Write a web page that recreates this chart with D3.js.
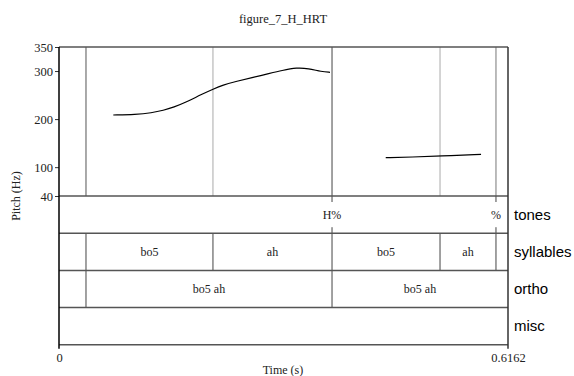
<!DOCTYPE html>
<html>
<head>
<meta charset="utf-8">
<script src="https://cdn.jsdelivr.net/npm/d3@7"></script>
<style>
  html, body { margin: 0; padding: 0; background: #fff; }
  svg { display: block; }
</style>
</head>
<body>
<script>
// Pitch track and annotation tiers for figure_7_H_HRT
const title = "figure_7_H_HRT";
const duration = 0.6162;
const pitchTicks = [40, 100, 200, 300, 350];

// Pitch contour segments: [time (s), F0 (Hz)]
const contour1 = [
  [0.0745, 208.5], [0.1050, 209.5], [0.1272, 213.0], [0.1431, 218.0],
  [0.1580, 225.0], [0.1729, 234.0], [0.1958, 251.6], [0.2118, 262.6],
  [0.2255, 271.0], [0.2400, 277.5], [0.2804, 291.7], [0.3078, 302.0],
  [0.3262, 307.0], [0.3421, 305.5], [0.3605, 298.6], [0.3719, 297.4]
];
const contour2 = [
  [0.4484, 119.7], [0.4850, 121.0], [0.5229, 123.2], [0.5792, 126.7]
];

// Annotation tiers
const tierNames = ["tones", "syllables", "ortho", "misc"];
const tonePoints = [0.3747, 0.5997];
const toneLabels = ["H%", "%"];
const syllableBounds = [0, 0.03705, 0.2113, 0.3747, 0.5229, 0.5997, 0.6162];
const syllableLabels = ["", "bo5", "ah", "bo5", "ah", ""];
const orthoBounds = [0, 0.03705, 0.3747, 0.6162];
const orthoLabels = ["", "bo5 ah", "bo5 ah"];
// Boundary lines through the pitch panel
const pitchMarks = [0.03705, 0.2113, 0.3747, 0.5229, 0.5997];
const pitchMarkColors = ["#555", "#aaa", "#444", "#aaa", "#777"];

const W = 574, H = 376;
const plotLeft = 59, plotRight = 508, plotTop = 47, pitchBottom = 196, tierH = 37.2;

const svg = d3.select("body").append("svg").attr("width", W).attr("height", H);

const x = d3.scaleLinear().domain([0, duration]).range([plotLeft, plotRight]);
const y = d3.scaleLinear().domain([40, 350]).range([pitchBottom, plotTop]);
const tierTop = i => pitchBottom + i * tierH;
const plotBottom = tierTop(tierNames.length);

const serif = "'Liberation Serif', 'Times New Roman', serif";
const sans = "'Liberation Sans', Arial, sans-serif";

// Title
svg.append("text").attr("x", 283).attr("y", 23).attr("text-anchor", "middle")
  .attr("font-family", serif).attr("font-size", 12.5).attr("fill", "#222").text(title);

// Pitch panel boundary lines
svg.selectAll("line.pm").data(pitchMarks).enter().append("line")
  .attr("x1", d => x(d)).attr("x2", d => x(d))
  .attr("y1", plotTop).attr("y2", pitchBottom)
  .attr("stroke", (d, i) => pitchMarkColors[i]).attr("stroke-width", 1);

// Pitch contours
const line = d3.line().x(d => x(d[0])).y(d => y(d[1])).curve(d3.curveBasis);
[contour1, contour2].forEach(c => {
  svg.append("path").attr("d", line(c)).attr("fill", "none")
    .attr("stroke", "#000").attr("stroke-width", 1.2);
});

// Tier interval boundaries and labels
function intervalTier(idx, bounds, labels) {
  const t0 = tierTop(idx), t1 = tierTop(idx + 1);
  bounds.slice(1, -1).forEach(b => {
    svg.append("line").attr("x1", x(b)).attr("x2", x(b))
      .attr("y1", t0).attr("y2", t1).attr("stroke", "#444").attr("stroke-width", 1);
  });
  labels.forEach((lab, i) => {
    if (!lab) return;
    svg.append("text").attr("x", (x(bounds[i]) + x(bounds[i + 1])) / 2)
      .attr("y", (t0 + t1) / 2 + 4).attr("text-anchor", "middle")
      .attr("font-family", serif).attr("font-size", 12).attr("fill", "#222").text(lab);
  });
}
intervalTier(1, syllableBounds, syllableLabels);
intervalTier(2, orthoBounds, orthoLabels);

// Point tier (tones)
tonePoints.forEach((p, i) => {
  const t0 = tierTop(0), t1 = tierTop(1);
  svg.append("line").attr("x1", x(p)).attr("x2", x(p)).attr("y1", t0).attr("y2", t0 + 6)
    .attr("stroke", "#444");
  svg.append("line").attr("x1", x(p)).attr("x2", x(p)).attr("y1", t1 - 6).attr("y2", t1)
    .attr("stroke", "#444");
  svg.append("text").attr("x", x(p)).attr("y", (t0 + t1) / 2 + 4).attr("text-anchor", "middle")
    .attr("font-family", serif).attr("font-size", 12).attr("fill", "#222").text(toneLabels[i]);
});

// Horizontal separators
[plotTop, pitchBottom, tierTop(1), tierTop(2), tierTop(3), plotBottom].forEach(yy => {
  svg.append("line").attr("x1", plotLeft).attr("x2", plotRight).attr("y1", yy).attr("y2", yy)
    .attr("stroke", "#555").attr("stroke-width", 1.5);
});
// Right frame edge
svg.append("line").attr("x1", plotRight).attr("x2", plotRight).attr("y1", plotTop).attr("y2", plotBottom + 4)
  .attr("stroke", "#333").attr("stroke-width", 1.5);

// Tier names
tierNames.forEach((n, i) => {
  svg.append("text").attr("x", 514).attr("y", tierTop(i) + tierH / 2 + 5)
    .attr("font-family", sans).attr("font-size", 15).attr("fill", "#000").text(n);
});

// Pitch axis
const yAxis = svg.append("g").attr("transform", `translate(${plotLeft},0)`)
  .call(d3.axisLeft(y).tickValues(pitchTicks).tickSize(4).tickPadding(2));
yAxis.select(".domain").remove();
yAxis.selectAll("text").attr("font-family", serif).attr("font-size", 12.5).attr("fill", "#222");
yAxis.selectAll("line").attr("stroke", "#333");
svg.append("line").attr("x1", plotLeft).attr("x2", plotLeft).attr("y1", plotTop).attr("y2", plotBottom + 4)
  .attr("stroke", "#000").attr("stroke-width", 1.5);

svg.append("text").attr("transform", `translate(20,196) rotate(-90)`).attr("text-anchor", "middle")
  .attr("font-family", serif).attr("font-size", 12).attr("fill", "#222").text("Pitch (Hz)");

// Time axis labels
const xAxis = svg.append("g").attr("transform", `translate(0,${plotBottom})`)
  .call(d3.axisBottom(x).tickValues([0, duration]).tickFormat(d => d === 0 ? "0" : String(duration))
    .tickSize(0).tickPadding(8));
xAxis.select(".domain").remove();
xAxis.selectAll("text").attr("font-family", serif).attr("font-size", 12.5).attr("fill", "#222");

svg.append("text").attr("x", 283).attr("y", 374).attr("text-anchor", "middle")
  .attr("font-family", serif).attr("font-size", 12).attr("fill", "#222").text("Time (s)");
</script>
</body>
</html>
